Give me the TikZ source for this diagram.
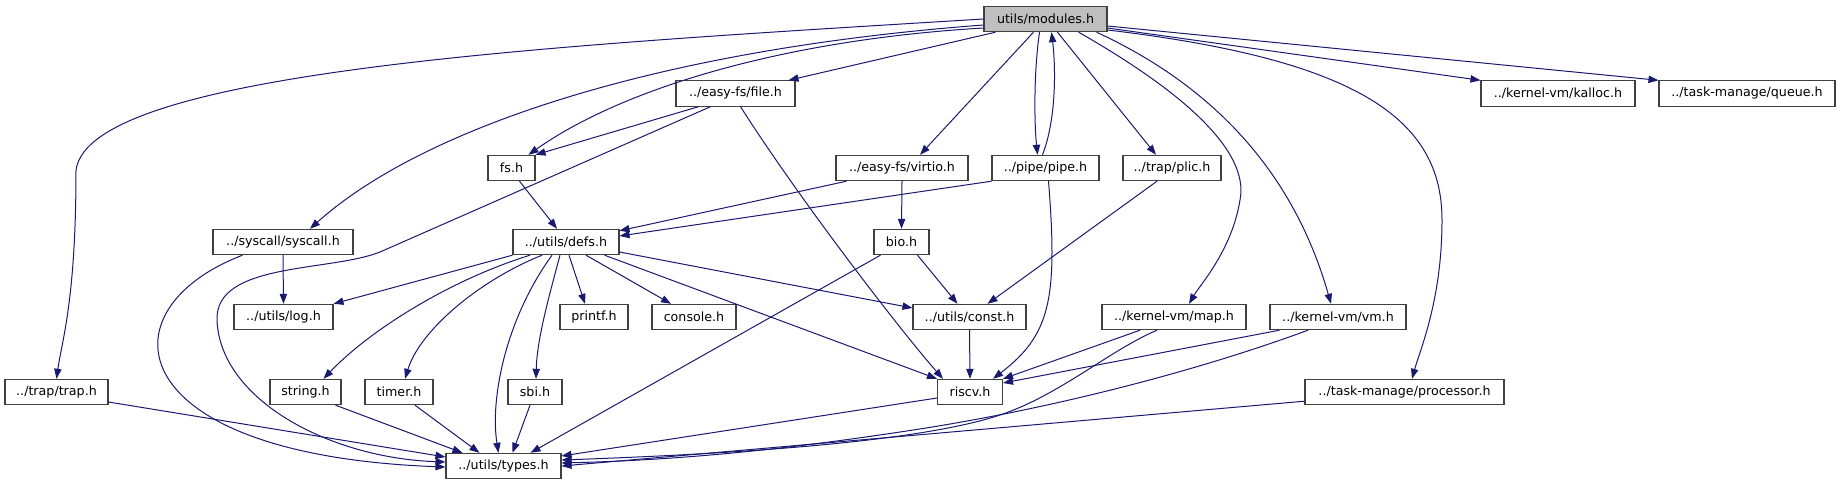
\documentclass[tikz,border=0pt]{standalone}
\usepackage{fontspec}
\setmainfont{DejaVu Sans}
\usetikzlibrary{arrows.meta,calc}
\definecolor{edgeblue}{HTML}{191970}
\definecolor{boxgray}{HTML}{404040}
\definecolor{rootfill}{HTML}{BFBFBF}
\begin{document}
\begin{tikzpicture}[x=0.75pt, y=-0.75pt, >={Triangle[length=7.5pt,width=5.5pt]},
    hdr/.style={draw=boxgray, line width=0.8pt, fill=white, inner sep=0pt,
      minimum height=19pt, font=\fontsize{9.5}{11}\selectfont},
    wd/.style={minimum width=#1*0.75pt},
    dep/.style={->, color=edgeblue, line width=0.75pt}]
    \useasboundingbox (0,0) rectangle (1841,485);
    % headers, row by row
    \node[hdr, wd=123, fill=rootfill] (mod) at (1045.5,19) {utils/modules.h};
    \node[hdr, wd=119] (file) at (735.5,93.5) {../easy-fs/file.h};
    \node[hdr, wd=154] (kalloc) at (1558,93.5) {../kernel-vm/kalloc.h};
    \node[hdr, wd=176] (queue) at (1747,93.5) {../task-manage/queue.h};
    \node[hdr, wd=47] (fs) at (511.5,168) {fs.h};
    \node[hdr, wd=132] (virtio) at (902,168) {../easy-fs/virtio.h};
    \node[hdr, wd=107] (pipe) at (1045.5,168) {../pipe/pipe.h};
    \node[hdr, wd=98] (plic) at (1172,168) {../trap/plic.h};
    \node[hdr, wd=140] (syscall) at (283,242) {../syscall/syscall.h};
    \node[hdr, wd=106] (defs) at (566,242) {../utils/defs.h};
    \node[hdr, wd=55] (bio) at (901.5,242) {bio.h};
    \node[hdr, wd=99] (log) at (283.5,317) {../utils/log.h};
    \node[hdr, wd=68] (printf) at (594,317) {printf.h};
    \node[hdr, wd=84] (console) at (694,317) {console.h};
    \node[hdr, wd=113] (const) at (969.5,317) {../utils/const.h};
    \node[hdr, wd=144] (map) at (1174,317) {../kernel-vm/map.h};
    \node[hdr, wd=136] (vm) at (1338,317) {../kernel-vm/vm.h};
    \node[hdr, wd=103] (trap) at (56.5,392) {../trap/trap.h};
    \node[hdr, wd=71] (string) at (305.5,392) {string.h};
    \node[hdr, wd=68] (timer) at (399,392) {timer.h};
    \node[hdr, wd=54] (sbi) at (535,392) {sbi.h};
    \node[hdr, wd=65] (riscv) at (970,392) {riscv.h};
    \node[hdr, wd=199] (proc) at (1404.5,392) {../task-manage/processor.h};
    \node[hdr, wd=115] (types) at (503.5,466) {../utils/types.h};
    % from utils/modules.h
    \draw[dep] (mod.west) .. controls (560,45) and (90,70) .. (76,170)
      .. controls (76,300) and (62,340) .. (trap.north);
    \draw[dep] ($(mod.west)+(0,6)$) .. controls (650,50) and (420,130) .. ($(syscall.north)+(27,0)$);
    \draw[dep] ($(mod.west)+(0,9)$) .. controls (780,40) and (620,90) .. ($(fs.north)+(17,0)$);
    \draw[dep] ($(mod.south west)+(12,0)$) -- ($(file.north east)+(-7,0)$);
    \draw[dep] ($(mod.south)+(-12,0)$) -- ($(virtio.north)+(18,0)$);
    \draw[dep] ($(mod.south)+(-6,0)$) .. controls (1034,70) and (1034,120) .. ($(pipe.north)+(-8,0)$);
    \draw[dep] ($(pipe.north)+(-3,0)$) .. controls (1056,120) and (1056,70) .. ($(mod.south)+(6,0)$);
    \draw[dep] ($(mod.south)+(12,0)$) -- ($(plic.north)+(-16,0)$);
    \draw[dep] ($(mod.south east)+(-29,0)$) .. controls (1180,90) and (1250,150) .. (1240,200)
      .. controls (1232,250) and (1200,285) .. ($(map.north)+(15,0)$);
    \draw[dep] ($(mod.south east)+(-11,0)$) .. controls (1200,80) and (1290,160) .. ($(vm.north)+(-7,0)$);
    \draw[dep] ($(mod.east)+(0,11)$) .. controls (1360,60) and (1442,120) .. (1442,220)
      .. controls (1442,300) and (1420,350) .. ($(proc.north)+(7.5,0)$);
    \draw[dep] ($(mod.east)+(0,9)$) -- (kalloc.north west);
    \draw[dep] ($(mod.east)+(0,7)$) -- (queue.north west);
    % second and third rows
    \draw[dep] ($(file.south west)+(23,0)$) -- (fs.north east);
    \draw[dep] ($(file.south west)+(35,0)$) -- (380,252) .. controls (330,272) and (215,262) .. (217,320)
      .. controls (220,400) and (330,458) .. ($(types.west)+(0,-4)$);
    \draw[dep] ($(file.south)+(5,0)$) .. controls (800,200) and (900,330) .. ($(riscv.north west)+(6,0)$);
    \draw[dep] ($(fs.south)+(8,0)$) -- ($(defs.north)+(-9,0)$);
    \draw[dep] ($(virtio.south west)+(11,0)$) -- ($(defs.north east)+(0,2)$);
    \draw[dep] (virtio.south) -- (bio.north);
    \draw[dep] (pipe.south west) -- ($(defs.east)+(0,-6)$);
    \draw[dep] ($(pipe.south)+(3,0)$) .. controls (1058,300) and (1050,335) .. ($(riscv.north east)+(-10,0)$);
    \draw[dep] ($(plic.south)+(-15,0)$) -- ($(const.north)+(18,0)$);
    \draw[dep] (syscall.south) -- (log.north);
    \draw[dep] ($(syscall.south west)+(30,0)$) .. controls (100,310) and (120,455) .. ($(types.west)+(0,1)$);
    % from ../utils/defs.h
    \draw[dep] (defs.south west) -- (log.north east);
    \draw[dep] ($(defs.south)+(-36,0)$) .. controls (450,280) and (370,330) .. ($(string.north)+(18,0)$);
    \draw[dep] ($(defs.south)+(-24,0)$) .. controls (480,280) and (420,330) .. ($(timer.north)+(6,0)$);
    \draw[dep] ($(defs.south)+(-14,0)$) .. controls (505,320) and (490,400) .. ($(types.north)+(-5,0)$);
    \draw[dep] ($(defs.south)+(-6,0)$) .. controls (548,300) and (537,340) .. ($(sbi.north)+(1,0)$);
    \draw[dep] ($(defs.south)+(3,0)$) -- ($(printf.north)+(-9,0)$);
    \draw[dep] ($(defs.south)+(20,0)$) -- ($(console.north)+(-23,0)$);
    \draw[dep] ($(defs.south east)+(-15,0)$) -- (riscv.north west);
    \draw[dep] ($(defs.east)+(0,10)$) -- ($(const.west)+(0,-9)$);
    \draw[dep] ($(bio.south east)+(-12,0)$) -- ($(const.north)+(-12,0)$);
    \draw[dep] ($(bio.south west)+(7,0)$) -- ($(types.north east)+(-31,0)$);
    % fourth row down to riscv.h and types.h
    \draw[dep] (const.south) -- (riscv.north);
    \draw[dep] ($(map.south)+(-34,0)$) -- (riscv.north east);
    \draw[dep] ($(vm.south west)+(10,0)$) -- ($(riscv.east)+(0,-9)$);
    \draw[dep] ($(map.south)+(-17,0)$) .. controls (1110,350) and (1060,395) .. (1000,415)
      .. controls (910,445) and (700,455) .. ($(types.east)+(0,-6)$);
    \draw[dep] ($(vm.south)+(-30,0)$) .. controls (1200,370) and (1050,410) .. (900,432)
      .. controls (780,450) and (680,460) .. ($(types.east)+(0,-3)$);
    \draw[dep] ($(proc.south west)+(0,-4)$) -- (types.east);
    \draw[dep] ($(riscv.west)+(0,6)$) -- ($(types.east)+(0,-10)$);
    \draw[dep] ($(trap.east)+(0,10)$) -- ($(types.west)+(0,-9)$);
    \draw[dep] ($(string.south east)+(-6,0)$) -- ($(types.north west)+(17,0)$);
    \draw[dep] ($(timer.south)+(16,0)$) -- ($(types.north west)+(34,0)$);
    \draw[dep] ($(sbi.south)+(-5,0)$) -- ($(types.north)+(9,0)$);
\end{tikzpicture}
\end{document}
